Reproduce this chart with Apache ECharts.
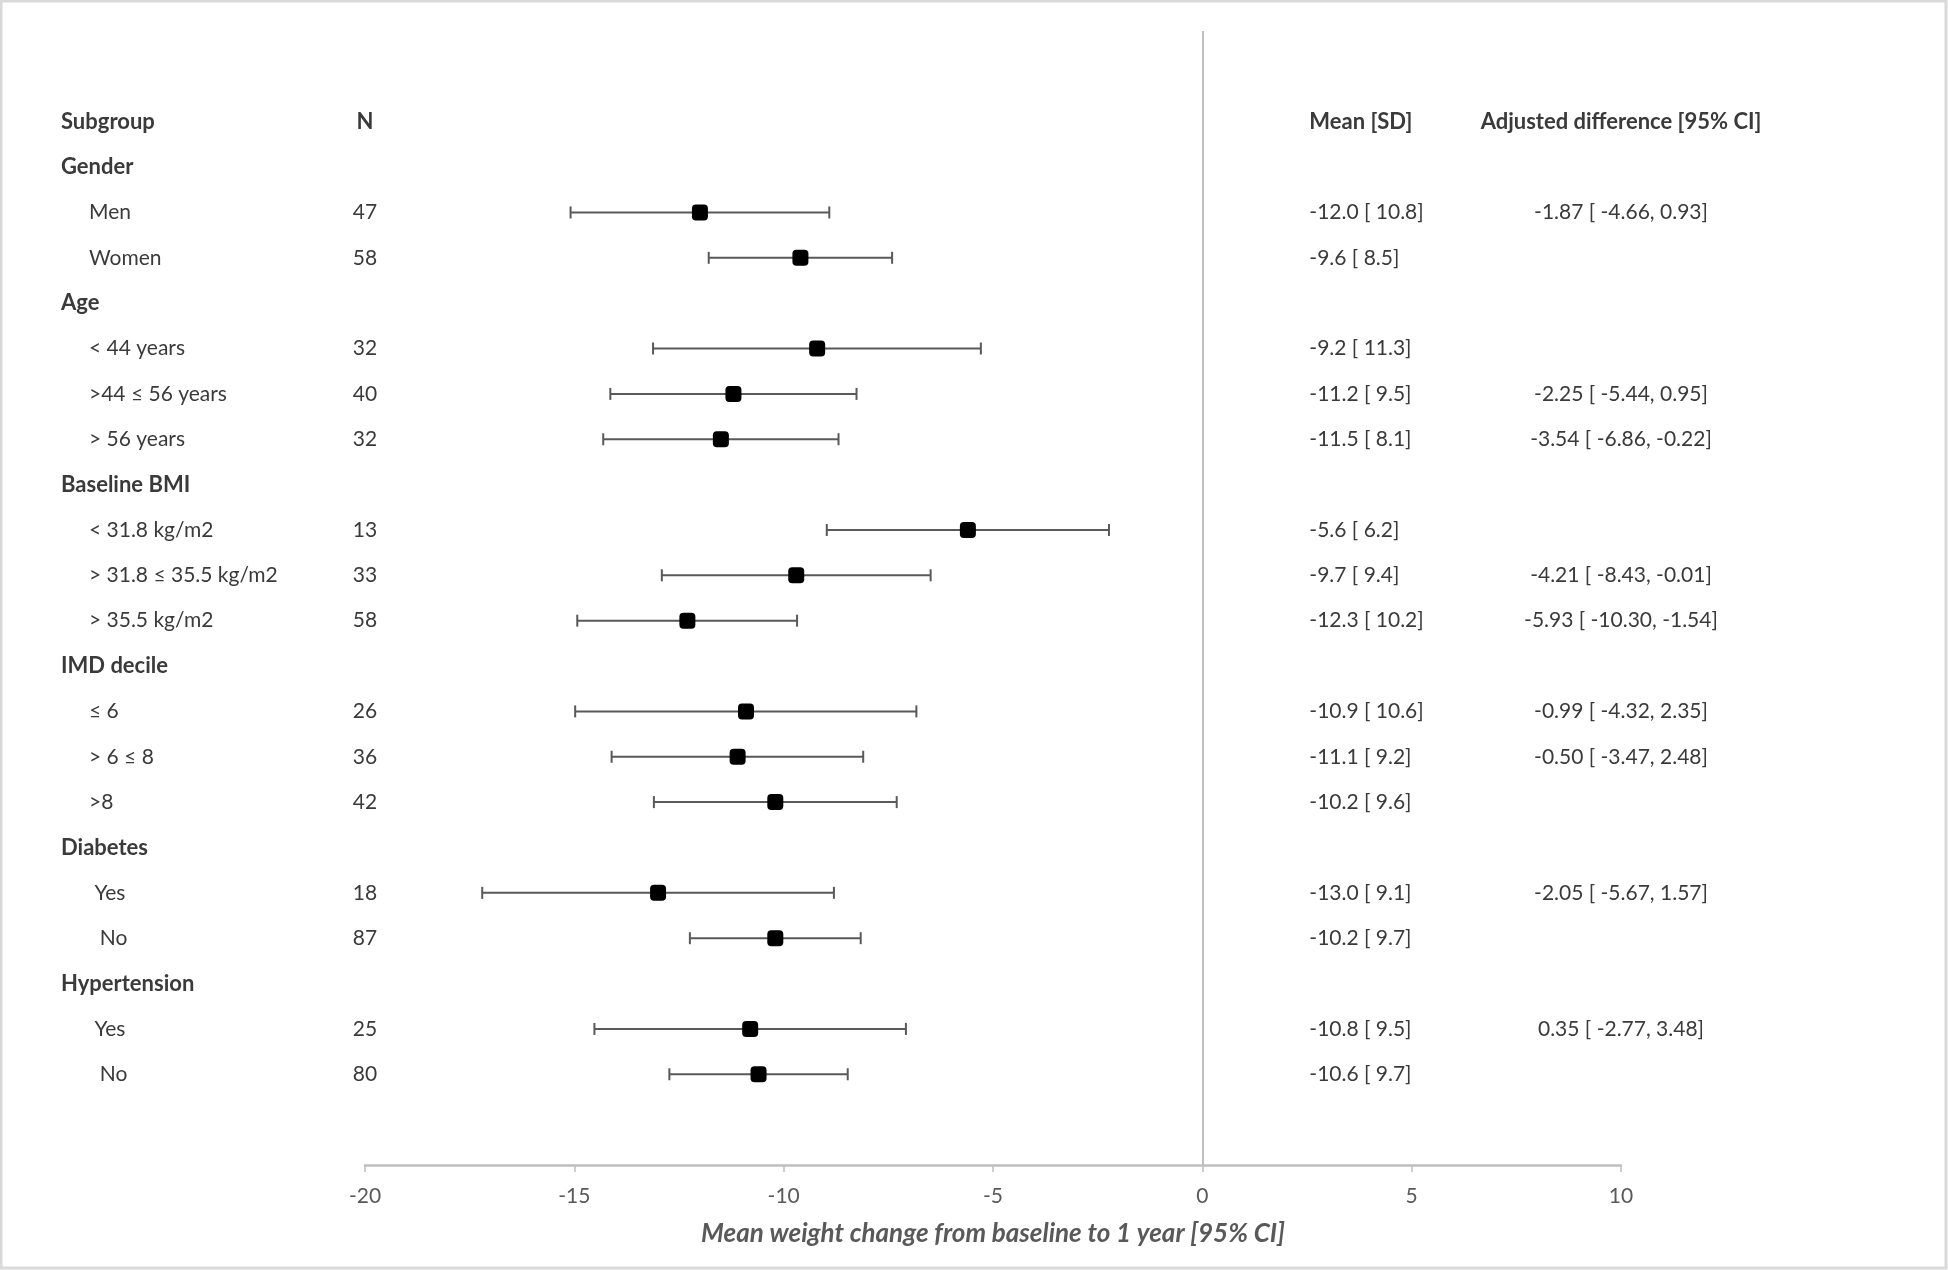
<!DOCTYPE html>
<html>
<head>
<meta charset="utf-8">
<script src="https://cdn.jsdelivr.net/npm/echarts@6/dist/echarts.min.js"></script>
<style>
  html, body { margin: 0; padding: 0; background: #ffffff; }
  #chart { width: 1948px; height: 1270px; }
</style>
</head>
<body>
<div id="chart"></div>
<script>
// ---- Table text (one entry per row, top to bottom) ----
const rowLabels = ['Subgroup', 'Gender', 'Men', 'Women', 'Age', '< 44 years', '>44 ≤ 56 years', '> 56 years',
  'Baseline BMI', '< 31.8 kg/m2', '> 31.8 ≤ 35.5 kg/m2', '> 35.5 kg/m2', 'IMD decile', '≤ 6', '> 6 ≤ 8', '>8',
  'Diabetes', ' Yes', '  No', 'Hypertension', ' Yes', '  No'];
const groupRows = [1, 4, 8, 12, 16, 19];
const nCounts = ['N', '', '47', '58', '', '32', '40', '32', '', '13', '33', '58', '', '26', '36', '42', '', '18', '87', '', '25', '80'];
const meanSD = ['Mean [SD]', '', '-12.0 [ 10.8]', '-9.6 [ 8.5]', '', '-9.2 [ 11.3]', '-11.2 [ 9.5]', '-11.5 [ 8.1]', '',
  '-5.6 [ 6.2]', '-9.7 [ 9.4]', '-12.3 [ 10.2]', '', '-10.9 [ 10.6]', '-11.1 [ 9.2]', '-10.2 [ 9.6]', '',
  '-13.0 [ 9.1]', '-10.2 [ 9.7]', '', '-10.8 [ 9.5]', '-10.6 [ 9.7]'];
const adjDiff = ['Adjusted difference [95% CI]', '', '-1.87 [ -4.66, 0.93]', '', '', '', '-2.25 [ -5.44, 0.95]',
  '-3.54 [ -6.86, -0.22]', '', '', '-4.21 [ -8.43, -0.01]', '-5.93 [ -10.30, -1.54]', '', '-0.99 [ -4.32, 2.35]',
  '-0.50 [ -3.47, 2.48]', '', '', '-2.05 [ -5.67, 1.57]', '', '', '0.35 [ -2.77, 3.48]', ''];

// ---- Plotted estimates ----
const pointRows = [2, 3, 5, 6, 7, 9, 10, 11, 13, 14, 15, 17, 18, 20, 21];
const means  = [-12.0, -9.6, -9.2, -11.2, -11.5, -5.6, -9.7, -12.3, -10.9, -11.1, -10.2, -13.0, -10.2, -10.8, -10.6];
const ciLow  = [-15.09, -11.79, -13.12, -14.14, -14.31, -8.97, -12.91, -14.93, -14.98, -14.11, -13.10, -17.20, -12.24, -14.52, -12.73];
const ciHigh = [-8.91, -7.41, -5.29, -8.26, -8.69, -2.23, -6.49, -9.68, -6.83, -8.10, -7.30, -8.80, -8.16, -7.08, -8.47];

// ---- Axis ----
const xMin = -20, xMax = 10, xStep = 5;
const axisTitle = 'Mean weight change from baseline to 1 year [95% CI]';

const FONT = 'Lato';
const TEXT = '#3a3a3a';
const AXIS = '#595959';

const chart = echarts.init(document.getElementById('chart'), null, { renderer: 'canvas' });

function renderTable(params, api) {
  const i = params.dataIndex;
  const y = api.coord([0, i])[1];
  const xN = api.coord([-20, i])[0];
  const xAdj = api.coord([10, i])[0];
  const xMean = api.coord([0, i])[0] + 107;
  const isHead = i === 0;
  const isGroup = groupRows.indexOf(i) >= 0;
  const bold = isHead || isGroup;
  const base = { fontFamily: FONT, fontSize: 21, fill: TEXT, verticalAlign: 'middle' };
  const st = (o) => Object.assign({}, base, o);
  const hb = isHead ? { fontWeight: 'bold', fontSize: 22 } : { fontWeight: 'normal' };
  const children = [
    { type: 'text', style: st(Object.assign({ x: bold ? 61 : 89, y: y, text: rowLabels[i], align: 'left' },
      bold ? { fontWeight: 'bold', fontSize: 22 } : { fontWeight: 'normal' })) }
  ];
  if (nCounts[i]) children.push({ type: 'text', style: st(Object.assign({ x: xN, y: y, text: nCounts[i], align: 'center' }, hb)) });
  if (meanSD[i]) children.push({ type: 'text', style: st(Object.assign({ x: xMean, y: y, text: meanSD[i], align: 'left' }, hb)) });
  if (adjDiff[i]) children.push({ type: 'text', style: st(Object.assign({ x: xAdj, y: y, text: adjDiff[i], align: 'center' }, hb)) });
  return { type: 'group', children: children };
}

function renderErr(params, api) {
  const lo = api.coord([api.value(0), api.value(2)]);
  const hi = api.coord([api.value(1), api.value(2)]);
  const cap = 6;
  const ls = { stroke: AXIS, lineWidth: 2 };
  return {
    type: 'group',
    children: [
      { type: 'line', shape: { x1: lo[0], y1: lo[1], x2: hi[0], y2: hi[1] }, style: ls },
      { type: 'line', shape: { x1: lo[0], y1: lo[1] - cap, x2: lo[0], y2: lo[1] + cap }, style: ls },
      { type: 'line', shape: { x1: hi[0], y1: hi[1] - cap, x2: hi[0], y2: hi[1] + cap }, style: ls }
    ]
  };
}

const option = {
  backgroundColor: '#ffffff',
  animation: false,
  grid: { left: 365, right: 327, top: 31, bottom: 105, containLabel: false },
  xAxis: {
    type: 'value', min: xMin, max: xMax, interval: xStep,
    axisLine: { show: true, onZero: false, lineStyle: { color: '#bfbfbf', width: 2.5 } },
    axisTick: { show: true, length: 7, lineStyle: { color: '#bfbfbf', width: 1.5 } },
    axisLabel: { color: AXIS, fontSize: 21, fontFamily: FONT, margin: 21 },
    splitLine: { show: false },
    name: axisTitle, nameLocation: 'middle', nameGap: 56,
    nameTextStyle: { color: AXIS, fontSize: 26, fontFamily: FONT, fontStyle: 'italic', fontWeight: 'bold' }
  },
  yAxis: { type: 'value', min: -2, max: 23, inverse: true, show: false, splitLine: { show: false } },
  graphic: [
    { type: 'rect', shape: { x: 1, y: 1, width: 1945, height: 1267 }, style: { fill: 'none', stroke: '#d9d9d9', lineWidth: 3 }, silent: true }
  ],
  series: [
    {
      type: 'custom', name: 'table', renderItem: renderTable, clip: false, silent: true,
      data: rowLabels.map((_, i) => [0, i]), encode: { x: 0, y: 1 }
    },
    {
      type: 'custom', name: 'ci', renderItem: renderErr, clip: false, silent: true,
      data: pointRows.map((r, k) => [ciLow[k], ciHigh[k], r]), encode: { x: [0, 1], y: 2 }
    },
    {
      type: 'scatter', name: 'mean', symbol: 'roundRect', symbolSize: 16,
      itemStyle: { color: '#000000', opacity: 1 },
      data: pointRows.map((r, k) => [means[k], r]),
      z: 5,
      markLine: {
        silent: true, symbol: 'none', label: { show: false },
        lineStyle: { color: '#bfbfbf', width: 2, type: 'solid' },
        data: [{ xAxis: 0 }]
      }
    }
  ]
};
chart.setOption(option);
</script>
</body>
</html>
